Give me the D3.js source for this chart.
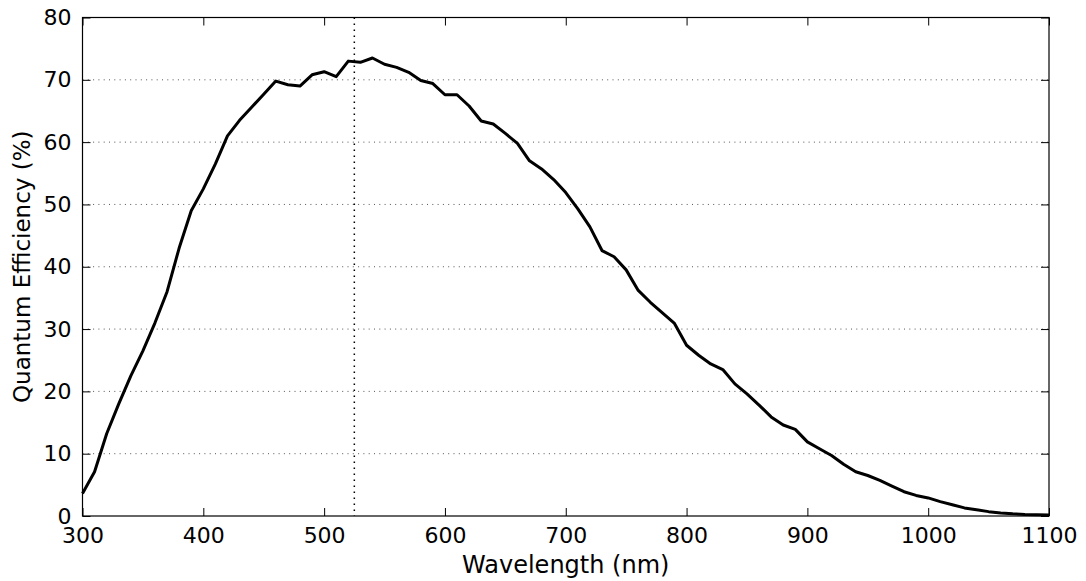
<!DOCTYPE html>
<html>
<head>
<meta charset="utf-8">
<script src="https://cdn.jsdelivr.net/npm/d3@7/dist/d3.min.js"></script>
<style>
  body { margin: 0; background: #fff; }
  svg { display: block; font-family: "DejaVu Sans", sans-serif; }
</style>
</head>
<body>
<svg id="svg" width="1086" height="581"></svg>
<script>
// wavelength (nm) and quantum efficiency (%)
var wavelength = d3.range(300, 1101, 10);
var qe = [
  3.6, 7.1, 13.2, 18.0, 22.5, 26.5, 31.0, 36.0, 43.0, 49.0,
  52.5, 56.5, 61.0, 63.5, 65.6, 67.7, 69.8, 69.2, 69.0, 70.8,
  71.3, 70.5, 73.0, 72.8, 73.5, 72.5, 72.0, 71.2, 69.9, 69.4,
  67.6, 67.6, 65.8, 63.4, 62.9, 61.4, 59.8, 57.0, 55.7, 54.0,
  51.9, 49.3, 46.4, 42.6, 41.6, 39.5, 36.2, 34.3, 32.6, 30.9,
  27.4, 25.8, 24.4, 23.5, 21.2, 19.6, 17.8, 15.9, 14.6, 13.9,
  11.9, 10.8, 9.7, 8.3, 7.1, 6.5, 5.7, 4.8, 3.9, 3.3,
  2.9, 2.3, 1.8, 1.3, 1.0, 0.7, 0.5, 0.35, 0.25, 0.2,
  0.15
];
var xTicks = [300, 400, 500, 600, 700, 800, 900, 1000, 1100];
var yTicks = [0, 10, 20, 30, 40, 50, 60, 70, 80];
var markerWavelength = 525;

var svg = d3.select('#svg'),
    margin = {left: 82.5, top: 17.5, right: 1086 - 1049, bottom: 581 - 516},
    width = 1086 - margin.left - margin.right,
    height = 581 - margin.top - margin.bottom,
    tickLen = 8;

var x = d3.scaleLinear().domain([300, 1100]).range([0, width]);
var y = d3.scaleLinear().domain([0, 80]).range([height, 0]);

var g = svg.append('g').attr('transform', 'translate(' + margin.left + ',' + margin.top + ')');

// dotted grid (horizontal only)
g.append('g').selectAll('line').data(yTicks.slice(1, -1)).enter().append('line')
  .attr('x1', 0).attr('x2', width)
  .attr('y1', function (d) { return y(d); })
  .attr('y2', function (d) { return y(d); })
  .attr('stroke', '#555').attr('stroke-width', 1)
  .attr('stroke-dasharray', '1,4.3');

// vertical marker
g.append('line')
  .attr('x1', x(markerWavelength)).attr('x2', x(markerWavelength))
  .attr('y1', 0).attr('y2', height)
  .attr('stroke', '#000').attr('stroke-width', 1.5)
  .attr('stroke-dasharray', '1.5,4.5');

// curve
var line = d3.line()
  .x(function (d, i) { return x(wavelength[i]); })
  .y(function (d) { return y(d); });

g.append('path').datum(qe)
  .attr('d', line)
  .attr('fill', 'none')
  .attr('stroke', '#000')
  .attr('stroke-width', 3)
  .attr('stroke-linejoin', 'round');

// axes, ticks pointing inwards on all four sides
function styleAxis (sel) {
  sel.select('.domain').remove();
  sel.selectAll('.tick line').attr('stroke', '#000').attr('stroke-width', 1);
  sel.selectAll('.tick text').attr('fill', '#000').style('font-size', '22px')
    .style('font-family', '"DejaVu Sans", sans-serif');
}

g.append('g').attr('transform', 'translate(0,' + height + ')')
  .call(d3.axisBottom(x).tickValues(xTicks).tickFormat(d3.format('d'))
    .tickSizeInner(-tickLen).tickSizeOuter(0).tickPadding(11))
  .call(styleAxis);
g.append('g')
  .call(d3.axisTop(x).tickValues(xTicks).tickSizeInner(-tickLen).tickSizeOuter(0).tickFormat(''))
  .call(styleAxis);
g.append('g')
  .call(d3.axisLeft(y).tickValues(yTicks).tickSizeInner(-tickLen).tickSizeOuter(0).tickPadding(11))
  .call(styleAxis);
g.append('g').attr('transform', 'translate(' + width + ',0)')
  .call(d3.axisRight(y).tickValues(yTicks).tickSizeInner(-tickLen).tickSizeOuter(0).tickFormat(''))
  .call(styleAxis);

// frame
g.append('rect')
  .attr('width', width).attr('height', height)
  .attr('fill', 'none').attr('stroke', '#000').attr('stroke-width', 1.2);

// labels
svg.append('text')
  .attr('x', margin.left + width / 2).attr('y', 573)
  .attr('text-anchor', 'middle').style('font-size', '24px')
  .text('Wavelength (nm)');

svg.append('text')
  .attr('transform', 'translate(30,' + (margin.top + height / 2) + ') rotate(-90)')
  .attr('text-anchor', 'middle').style('font-size', '23px')
  .text('Quantum Efficiency (%)');
</script>
</body>
</html>
